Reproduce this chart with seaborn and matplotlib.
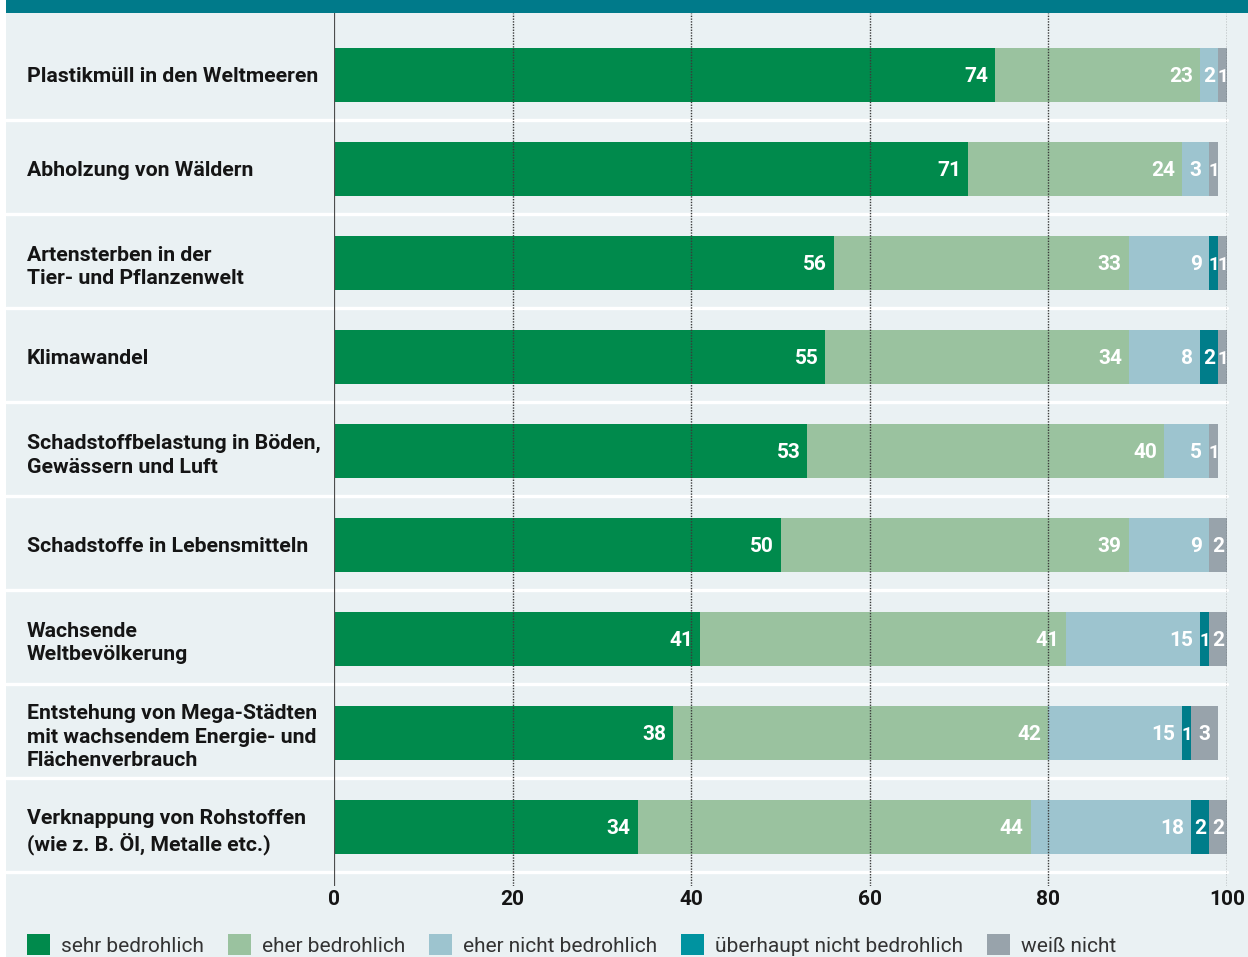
import numpy as np
import matplotlib
matplotlib.use("Agg")
import matplotlib.pyplot as plt
import matplotlib.patches as mpatches
import seaborn as sns

# --- data -------------------------------------------------------------
categories = [
    "Plastikmüll in den Weltmeeren",
    "Abholzung von Wäldern",
    "Artensterben in der\nTier- und Pflanzenwelt",
    "Klimawandel",
    "Schadstoffbelastung in Böden,\nGewässern und Luft",
    "Schadstoffe in Lebensmitteln",
    "Wachsende\nWeltbevölkerung",
    "Entstehung von Mega-Städten\nmit wachsendem Energie- und\nFlächenverbrauch",
    "Verknappung von Rohstoffen\n(wie z. B. Öl, Metalle etc.)",
]
sehr_bedrohlich = [74, 71, 56, 55, 53, 50, 41, 38, 34]
eher_bedrohlich = [23, 24, 33, 34, 40, 39, 41, 42, 44]
eher_nicht_bedrohlich = [2, 3, 9, 8, 5, 9, 15, 15, 18]
ueberhaupt_nicht_bedrohlich = [0, 0, 1, 2, 0, 0, 1, 1, 2]
weiss_nicht = [1, 1, 1, 1, 1, 2, 2, 3, 2]

series_names = [
    "sehr bedrohlich",
    "eher bedrohlich",
    "eher nicht bedrohlich",
    "überhaupt nicht bedrohlich",
    "weiß nicht",
]
x_ticks = [0, 20, 40, 60, 80, 100]

# --- style ------------------------------------------------------------
bar_colors = ["#008A4C", "#9AC29F", "#9DC4CF", "#007D8A", "#98A3AB"]
legend_colors = ["#008A4C", "#9AC29F", "#9DC4CF", "#0093A0", "#98A3AB"]
panel_color = "#EAF1F3"
band_color = "#007A8A"
text_color = "#151515"

sns.set_theme(style="white")
plt.rcParams["font.family"] = ["Roboto", "DejaVu Sans"]

W, H, DPI = 1248, 957, 100
fig = plt.figure(figsize=(W / DPI, H / DPI), dpi=DPI, facecolor="white")

# light panel and the teal band on top
fig.patches.append(mpatches.Rectangle((6 / W, 0), 1 - 6 / W, 1 - 13 / H,
                                      transform=fig.transFigure,
                                      facecolor=panel_color, edgecolor="none", zorder=-10))
fig.patches.append(mpatches.Rectangle((6 / W, 1 - 13 / H), 1 - 6 / W, 13 / H,
                                      transform=fig.transFigure,
                                      facecolor=band_color, edgecolor="none", zorder=-9))

ax_left, ax_right = 334 / W, 1227 / W
ax_top, ax_bottom = 1 - 13 / H, 1 - 886 / H
ax = fig.add_axes([ax_left, ax_bottom, ax_right - ax_left, ax_top - ax_bottom])
ax.set_facecolor("none")

series = np.array([sehr_bedrohlich, eher_bedrohlich, eher_nicht_bedrohlich,
                   ueberhaupt_nicht_bedrohlich, weiss_nicht])
cums = np.cumsum(series, axis=0)

# stacked bars: draw the running totals from the back to the front
for i in reversed(range(len(series))):
    sns.barplot(x=cums[i], y=categories, orient="h", color=bar_colors[i],
                saturation=1, width=0.565, errorbar=None, linewidth=0, ax=ax)

# value labels inside the segments
for i in range(len(series)):
    for j in range(len(categories)):
        v = int(series[i][j])
        if v == 0:
            continue
        end = cums[i][j]
        if v >= 4:
            ax.annotate(str(v), xy=(end, j), xytext=(-5, 0), textcoords="offset points",
                        ha="right", va="center_baseline", color="white", fontsize=15,
                        fontweight="bold", zorder=3)
        else:
            ax.text(end - v / 2, j, str(v), ha="center", va="center_baseline",
                    color="white", fontsize=13.5 if v == 1 else 15,
                    fontweight="bold", zorder=3)

# row separators reaching into the label column
sep_xmin = (6 - 334) / 893
for k in range(len(categories)):
    ax.axhline(k + 0.48, xmin=sep_xmin, xmax=1.0, color="white", lw=2.4,
               clip_on=False, zorder=0.5)

# dotted grid on top of the bars, solid zero line
for t in x_ticks[1:]:
    ax.axvline(t, color="#3a3a3a", lw=1.0, linestyle=(0, (1, 1)), zorder=4)
ax.axvline(0, color="#4d4d4d", lw=1.6, zorder=4)

ax.set_xlim(0, 100)
ax.set_ylim(8 + (886 - 827) / 94, -(75 - 13) / 94)

ax.set_xticks(x_ticks)
ax.set_xticklabels([str(t) for t in x_ticks], fontweight="bold", fontsize=15,
                   color=text_color)
ax.set_yticks(range(len(categories)))
ax.set_yticklabels(categories, ha="left", va="center_baseline", fontweight="bold",
                   fontsize=15.3, color=text_color, linespacing=1.3)
ax.tick_params(axis="x", length=0, pad=3)
ax.tick_params(axis="y", length=0, pad=(334 - 27) * 72 / DPI)
ax.set_xlabel("")
ax.set_ylabel("")
for s in ax.spines.values():
    s.set_visible(False)

# legend row
fs_px = 15 * DPI / 72
handles = [mpatches.Patch(facecolor=c, edgecolor="none", label=n)
           for c, n in zip(legend_colors, series_names)]
fig.legend(handles=handles, loc="center left", bbox_to_anchor=(27 / W, 1 - 945 / H),
           ncol=5, frameon=False, fontsize=15, labelcolor="#333333",
           handlelength=23 / fs_px, handleheight=23 / fs_px,
           handletextpad=11 / fs_px, columnspacing=24 / fs_px,
           borderpad=0, borderaxespad=0)

fig.savefig("out.png", dpi=DPI, facecolor="white")
